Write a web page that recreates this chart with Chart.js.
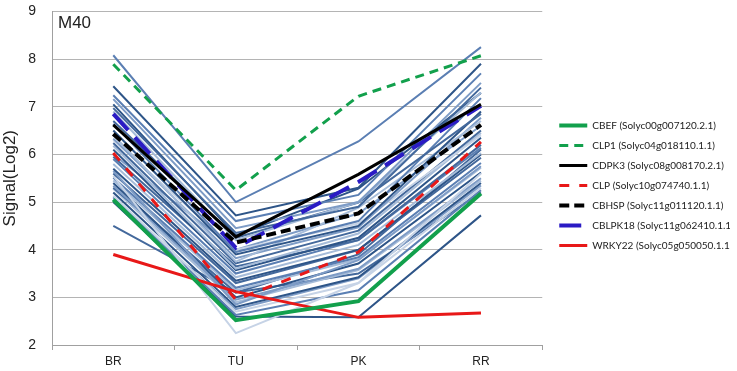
<!DOCTYPE html>
<html>
<head>
<meta charset="utf-8">
<script src="https://cdn.jsdelivr.net/npm/chart.js@4"></script>
<style>
  html, body { margin: 0; padding: 0; background: #fff; }
  #wrap { width: 737px; height: 371px; position: relative; }
</style>
</head>
<body>
<div id="wrap"><canvas id="chart"></canvas></div>
<script>
// stages on the x axis
const stages = ['BR', 'TU', 'PK', 'RR'];
const yMin = 2;
const yMax = 9;
const panelLabel = 'M40';

// highlighted genes (values per stage)
const cbef    = [5.05, 2.52, 2.92, 5.18];
const clp1    = [7.89, 5.25, 7.22, 8.07];
const cdpk3   = [6.62, 4.27, 5.58, 7.05];
const clp     = [6.03, 2.95, 3.95, 6.26];
const cbhsp   = [6.43, 4.15, 4.76, 6.62];
const cblpk18 = [6.85, 4.04, 5.42, 7.02];
const wrky22  = [3.90, 3.12, 2.58, 2.67];

// the rest of the M40 module genes, drawn in shades of blue
const moduleGenes = [
  [8.08, 5.00, 6.27, 8.25],
  [7.43, 4.72, 5.30, 7.90],
  [7.24, 4.60, 5.15, 7.70],
  [7.16, 4.45, 5.00, 7.50],
  [6.97, 4.35, 4.90, 7.40],
  [6.90, 4.20, 5.00, 7.30],
  [7.05, 4.30, 5.28, 7.29],
  [6.70, 4.25, 4.99, 6.85],
  [6.64, 3.95, 4.60, 7.18],
  [6.50, 3.90, 4.50, 6.90],
  [6.40, 3.75, 4.88, 6.70],
  [6.33, 3.82, 4.47, 6.77],
  [6.30, 4.00, 4.55, 6.40],
  [6.24, 3.71, 4.40, 6.50],
  [6.18, 3.60, 4.34, 6.45],
  [6.10, 3.57, 4.25, 6.35],
  [6.00, 4.00, 4.76, 6.60],
  [5.95, 3.65, 4.20, 6.20],
  [5.90, 3.50, 4.20, 6.14],
  [5.80, 3.42, 4.10, 6.03],
  [5.70, 3.35, 4.00, 6.00],
  [5.65, 2.85, 3.78, 5.75],
  [5.60, 3.30, 3.99, 5.93],
  [5.55, 2.25, 3.30, 5.60],
  [5.51, 3.20, 3.84, 5.82],
  [5.45, 3.15, 3.80, 5.72],
  [5.40, 3.00, 3.71, 5.62],
  [5.34, 2.95, 3.60, 5.50],
  [5.30, 3.10, 3.90, 6.10],
  [5.28, 2.90, 3.57, 5.45],
  [5.20, 2.80, 3.42, 5.40],
  [5.13, 2.70, 3.30, 5.30],
  [5.10, 2.63, 3.15, 5.25],
  [5.05, 2.75, 3.40, 5.35],
  [5.00, 2.60, 2.58, 4.72],
  [4.50, 3.10, 3.50, 5.20]
];

// shade picked for each module gene line (index into blueShades)
const blueShades = ['#2e5588', '#44699c', '#5b7fb3', '#7e9cc6', '#a6bcd9', '#c6d3e6'];
const moduleShade = [2, 0, 2, 3, 1, 4, 0, 1, 2, 0, 4, 3, 5, 1, 4, 0, 3, 1, 2, 4,
                     0, 3, 1, 5, 2, 4, 0, 3, 1, 4, 0, 5, 2, 3, 0, 1];

const highlighted = [
  { label: 'CBEF (Solyc00g007120.2.1)',    data: cbef,    color: '#12a04c', width: 4, dash: [] },
  { label: 'CLP1 (Solyc04g018110.1.1)',    data: clp1,    color: '#12a04c', width: 3, dash: [9, 6] },
  { label: 'CDPK3 (Solyc08g008170.2.1)',   data: cdpk3,   color: '#000000', width: 3, dash: [] },
  { label: 'CLP (Solyc10g074740.1.1)',     data: clp,     color: '#e81818', width: 3, dash: [10, 10] },
  { label: 'CBHSP (Solyc11g011120.1.1)',   data: cbhsp,   color: '#000000', width: 4, dash: [10, 5] },
  { label: 'CBLPK18 (Solyc11g062410.1.1)', data: cblpk18, color: '#2a1bc4', width: 4, dash: [22, 10] },
  { label: 'WRKY22 (Solyc05g050050.1.1)',  data: wrky22,  color: '#e81818', width: 3, dash: [] }
];

const datasets = highlighted.map(h => ({
  label: h.label,
  data: h.data,
  borderColor: h.color,
  backgroundColor: h.color,
  borderWidth: h.width,
  borderDash: h.dash,
  pointRadius: 0,
  tension: 0,
  fill: false
}));

moduleGenes.forEach((vals, i) => {
  datasets.push({
    label: 'gene' + i,
    data: vals,
    borderColor: blueShades[moduleShade[i]],
    borderWidth: 2,
    pointRadius: 0,
    tension: 0,
    fill: false
  });
});

// draws the module name in the top-left corner of the plot
const panelLabelPlugin = {
  id: 'panelLabel',
  afterDraw(chart) {
    const { ctx, chartArea } = chart;
    ctx.save();
    ctx.font = '17px "Liberation Sans", Arial, sans-serif';
    ctx.fillStyle = '#222';
    ctx.textBaseline = 'middle';
    ctx.fillText(panelLabel, chartArea.left + 6, chartArea.top + 12);
    ctx.restore();
  }
};

// nudge the legend a bit away from the plot
const legendShift = {
  id: 'legendShift',
  afterLayout(chart) {
    if (chart.legend) {
      chart.legend.left += 7;
      chart.legend.right += 7;
    }
  }
};

new Chart(document.getElementById('chart'), {
  type: 'line',
  data: { labels: stages, datasets: datasets },
  plugins: [panelLabelPlugin, legendShift],
  options: {
    responsive: true,
    maintainAspectRatio: false,
    animation: false,
    layout: { padding: { top: 0, right: 14, left: 0, bottom: 0 } },
    plugins: {
      tooltip: { enabled: false },
      legend: {
        position: 'right',
        labels: {
          usePointStyle: true,
          pointStyle: 'line',
          pointStyleWidth: 28,
          boxHeight: 10,
          padding: 10,
          color: '#222',
          font: { family: 'Lato, "Liberation Sans", sans-serif', size: 10 },
          generateLabels(chart) {
            const items = Chart.defaults.plugins.legend.labels.generateLabels(chart);
            return items
              .filter(item => item.datasetIndex < highlighted.length)
              .map(item => {
                const h = highlighted[item.datasetIndex];
                item.lineDash = h.dash;
                item.lineWidth = h.width;
                item.strokeStyle = h.color;
                return item;
              });
          }
        }
      }
    },
    scales: {
      x: {
        offset: true,
        grid: { offset: true, drawOnChartArea: false, tickLength: 5, color: '#a0a0a0' },
        border: { color: '#a0a0a0' },
        ticks: { color: '#222', font: { family: '"Liberation Sans", Arial, sans-serif', size: 12 }, padding: 4 },
        afterFit(scale) { scale.height = 26; }
      },
      y: {
        min: yMin,
        max: yMax,
        ticks: { stepSize: 1, color: '#222', font: { family: '"Liberation Sans", Arial, sans-serif', size: 14 }, padding: 3 },
        grid: { color: '#b4b4b4', drawTicks: true, tickLength: 13, tickColor: 'rgba(0,0,0,0)' },
        border: { color: '#a0a0a0' },
        title: {
          display: true,
          text: 'Signal(Log2)',
          color: '#222',
          font: { family: '"Liberation Sans", Arial, sans-serif', size: 17 },
          padding: { top: 0, bottom: 4 }
        },
        afterFit(scale) { scale.width = 52; }
      }
    }
  }
});
</script>
</body>
</html>
